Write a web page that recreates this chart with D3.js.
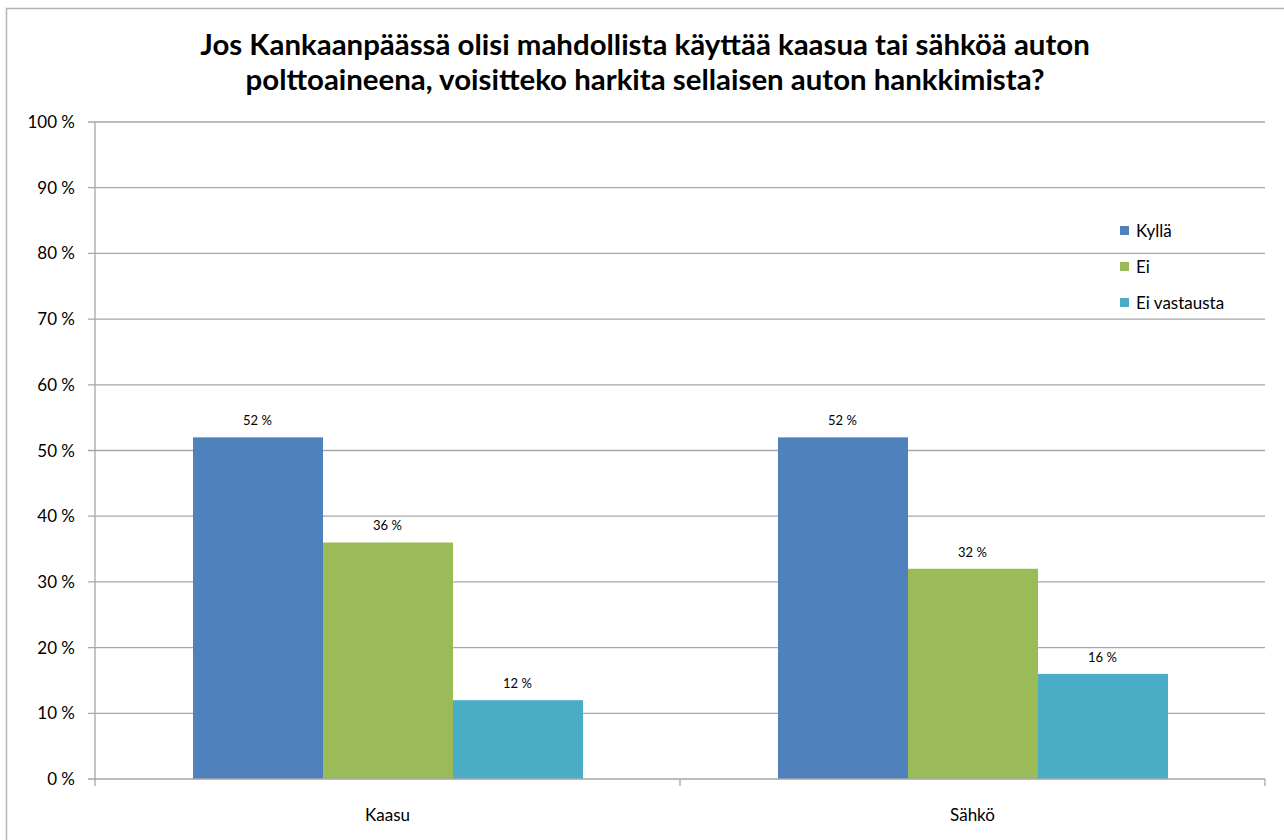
<!DOCTYPE html>
<html>
<head>
<meta charset="utf-8">
<script src="https://cdn.jsdelivr.net/npm/d3@7"></script>
<style>
body { margin:0; background:#fff; }
text { font-family: Lato, "Open Sans", sans-serif; }
</style>
</head>
<body>
<div id="chart"></div>
<script>
var categories = ["Kaasu", "Sähkö"];
var seriesNames = ["Kyllä", "Ei", "Ei vastausta"];
var kylla = [52, 52];
var ei = [36, 32];
var eiVastausta = [12, 16];
var yTicks = [0, 10, 20, 30, 40, 50, 60, 70, 80, 90, 100];
var titleLines = ["Jos Kankaanpäässä olisi mahdollista käyttää kaasua tai sähköä auton",
                  "polttoaineena, voisitteko harkita sellaisen auton hankkimista?"];

var colors = ["#4f81bd", "#9bbb59", "#4bacc6"];
var seriesValues = [kylla, ei, eiVastausta];

var width = 1284, height = 840;
var padding = {left:95, right:19, top:122, bottom:61};

var svg = d3.select("#chart")
	.append("svg")
	.attr("width", width)
	.attr("height", height);

// outer chart border
svg.append("path")
	.attr("d", "M6.5 840 L6.5 8.5 L1284 8.5")
	.attr("fill", "none")
	.attr("stroke", "#b4b4b4")
	.attr("stroke-width", 1.5);

// title
var title = svg.append("g");
titleLines.forEach(function(line, i){
	var t = title.append("text")
		.text(line)
		.attr("x", 645)
		.attr("y", 55 + i*35)
		.attr("text-anchor", "middle")
		.style("font-weight", "bold")
		.style("font-size", "24px")
		.attr("fill", "#000");
	if (i == 0) {
		var w = t.node().getComputedTextLength();
		title.attr("data-scale", 890 / w);
	}
});
var fs = 24 * (+title.attr("data-scale"));
title.selectAll("text").style("font-size", fs + "px");

var plotW = width - padding.left - padding.right;
var plotH = height - padding.top - padding.bottom;

var g = svg.append("g")
	.attr("transform", "translate(" + padding.left + "," + padding.top + ")");

var x0 = d3.scaleBand().domain(categories).range([0, plotW]);
var x1 = d3.scaleBand().domain(seriesNames).range([0, x0.bandwidth()]).paddingOuter(0.75);
var y = d3.scaleLinear().domain([0, 100]).range([plotH, 0]);

// gridlines
g.selectAll(".grid")
	.data(yTicks.filter(function(d){ return d > 0; }))
	.enter().append("line")
	.attr("x1", -7)
	.attr("x2", plotW)
	.attr("y1", function(d){ return y(d); })
	.attr("y2", function(d){ return y(d); })
	.attr("stroke", "#a6a6a6")
	.attr("stroke-width", 1.3);

// y labels
g.selectAll(".ylab")
	.data(yTicks)
	.enter().append("text")
	.text(function(d){ return d + " %"; })
	.attr("x", -20)
	.attr("y", function(d){ return y(d) + 6; })
	.attr("text-anchor", "end")
	.style("font-size", "17px")
	.attr("fill", "#000");

// bars
var groups = g.selectAll(".cat")
	.data(categories)
	.enter().append("g")
	.attr("transform", function(d){ return "translate(" + x0(d) + ",0)"; });

groups.each(function(cat, ci){
	var grp = d3.select(this);
	seriesNames.forEach(function(s, si){
		var v = seriesValues[si][ci];
		grp.append("rect")
			.attr("x", x1(s) + 0.5)
			.attr("y", y(v))
			.attr("width", x1.bandwidth())
			.attr("height", plotH - y(v))
			.attr("fill", colors[si]);
		grp.append("text")
			.text(v + " %")
			.attr("x", x1(s) + x1.bandwidth()/2)
			.attr("y", y(v) - 12)
			.attr("text-anchor", "middle")
			.style("font-size", "13px")
			.attr("fill", "#000");
	});
});

// axes lines
g.append("line")
	.attr("x1", -7).attr("x2", plotW)
	.attr("y1", plotH).attr("y2", plotH)
	.attr("stroke", "#a6a6a6").attr("stroke-width", 1.3);
g.append("line")
	.attr("x1", 0).attr("x2", 0)
	.attr("y1", 0).attr("y2", plotH + 7)
	.attr("stroke", "#a6a6a6").attr("stroke-width", 1.3);

var bounds = categories.map(function(c){ return x0(c); }).concat([plotW]);
g.selectAll(".xtick")
	.data(bounds.slice(1))
	.enter().append("line")
	.attr("x1", function(d){ return d; })
	.attr("x2", function(d){ return d; })
	.attr("y1", plotH)
	.attr("y2", plotH + 7)
	.attr("stroke", "#a6a6a6").attr("stroke-width", 1.3);

g.selectAll(".xlab")
	.data(categories)
	.enter().append("text")
	.text(function(d){ return d; })
	.attr("x", function(d){ return x0(d) + x0.bandwidth()/2; })
	.attr("y", plotH + 42)
	.attr("text-anchor", "middle")
	.style("font-size", "17px")
	.attr("fill", "#000");

// legend
var legend = svg.append("g")
	.attr("transform", "translate(1120,231)");
seriesNames.forEach(function(s, i){
	legend.append("rect")
		.attr("x", 0)
		.attr("y", i*36 - 5)
		.attr("width", 9)
		.attr("height", 9)
		.attr("fill", colors[i]);
	legend.append("text")
		.text(s)
		.attr("x", 16)
		.attr("y", i*36 + 6)
		.style("font-size", "17px")
		.attr("fill", "#000");
});
</script>
</body>
</html>
